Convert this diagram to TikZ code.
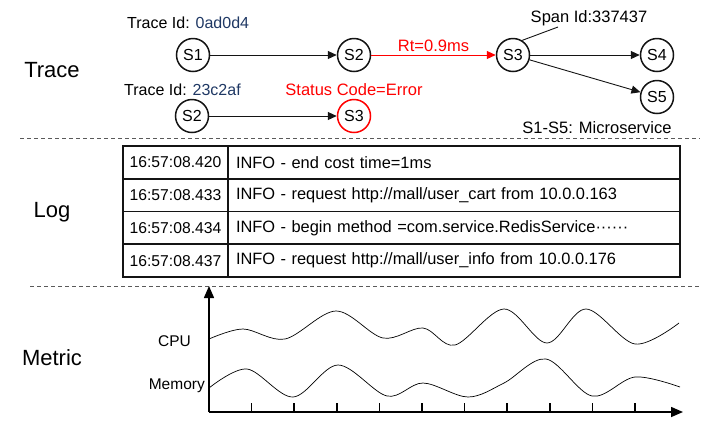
\documentclass[tikz,border=0pt]{standalone}
\usepackage{fontspec}
\setmainfont{Liberation Sans}
\usetikzlibrary{arrows.meta,positioning}
\definecolor{idblue}{RGB}{31,56,100}
\definecolor{errred}{RGB}{255,0,0}
\definecolor{ink}{RGB}{20,20,20}
\definecolor{dashgray}{RGB}{90,90,90}
\tikzset{
  >={Triangle[length=9pt,width=8pt]},
  svc/.style={circle,draw=#1,line width=1.5pt,minimum size=33pt,inner sep=0pt,
    font=\fontsize{16}{19}\selectfont},
  svc/.default=ink,
  link/.style={->,line width=0.9pt,draw=#1},
  link/.default=ink,
  sect/.style={font=\fontsize{22}{26}\selectfont},
  tag/.style={font=\fontsize{16.5}{19}\selectfont,inner sep=1pt},
  idtag/.style={font=\fontsize{16}{19}\selectfont,inner sep=1pt,anchor=west},
  axtag/.style={font=\fontsize{15.5}{18}\selectfont,inner sep=1pt,anchor=east},
  sep line/.style={dashgray,line width=0.8pt,dash pattern=on 4pt off 3pt},
  tcell/.style={draw=ink,line width=1.6pt,outer sep=0pt,minimum width=105pt,
    minimum height=32.75pt,inner sep=0pt,font=\fontsize{15.7}{18}\selectfont},
  mcell/.style={draw=ink,line width=1.6pt,outer sep=0pt,minimum width=452pt,
    minimum height=32.75pt,inner xsep=8pt,text width=436pt,align=left,
    font=\fontsize{16.4}{19}\selectfont},
  axis/.style={->,line width=1.5pt,>={Triangle[length=12pt,width=10pt]}},
  tickln/.style={line width=1.5pt},
  wave/.style={line width=0.7pt,smooth,tension=0.55},
}
\begin{document}
\begin{tikzpicture}[x=1pt,y=-1pt]
  \useasboundingbox (0,0) rectangle (706,424);
  % section names
  \node[sect] (trace) at (52,70) {Trace};
  \node[sect] (log) at (52,212) {Log};
  \node[sect] (metric) at (52,358) {Metric};
  \draw[sep line] (20,138) -- (700,138);
  \draw[sep line] (30,286) -- (700,286);

  % trace 0ad0d4
  \node[idtag] (id1) at (126,23) {Trace Id: \textcolor{idblue}{0ad0d4}};
  \node[svc] (S1) at (193,55) {S1};
  \node[svc] (S2) at (354,55) {S2};
  \node[svc] (S3) at (513,55) {S3};
  \node[svc] (S4) at (657,55) {S4};
  \node[svc] (S5) at (657,97) {S5};
  \draw[link] (S1) -- (S2);
  \draw[link=errred] (S2) -- node[tag,above=2pt,text=errred] (rt) {Rt=0.9ms} (S3);
  \draw[link] (S3) -- (S4);
  \draw[link] (S3) -- (S5);
  \node[tag] (span) at (589,18) {Span Id:337437};
  \coordinate (spanfoot) at (558,27);
  \draw[line width=0.9pt,ink] (S3.58) -- (spanfoot);

  % trace 23c2af
  \node[idtag] (id2) at (123,90) {Trace Id: \textcolor{idblue}{23c2af}};
  \node[svc] (S2b) at (192,116) {S2};
  \node[svc=errred] (S3b) at (354,116) {S3};
  \draw[link] (S2b) -- (S3b);
  \node[tag,text=errred,above=2pt of S3b] (err) {Status Code=Error};
  \node[tag] (legend) at (597,128) {S1-S5: Microservice};

  % log table
  \node[tcell] (t1) at (175.5,162.4) {16:57:08.420};
  \node[mcell,right=0pt of t1] (m1) {INFO - end cost time=1ms};
  \node[tcell,below=0pt of t1] (t2) {16:57:08.433};
  \node[mcell,right=0pt of t2] (m2) {INFO - request http://mall/user\_cart from 10.0.0.163};
  \node[tcell,below=0pt of t2] (t3) {16:57:08.434};
  \node[mcell,right=0pt of t3] (m3) {INFO - begin method =com.service.RedisService······};
  \node[tcell,below=0pt of t3] (t4) {16:57:08.437};
  \node[mcell,right=0pt of t4] (m4) {INFO - request http://mall/user\_info from 10.0.0.176};

  % metric chart
  \coordinate (o) at (209,412);
  \coordinate (ytip) at (209,286);
  \coordinate (xtip) at (683,412);
  \draw[axis] (o) -- (ytip);
  \draw[axis] (o) -- (xtip);
  \foreach \i in {1,...,10}
    \draw[tickln] (209+42.6*\i,412) -- ++(0,-9);
  \node[axtag] (cpu) at (192,341) {CPU};
  \node[axtag] (mem) at (206,386) {Memory};
  \draw[wave] plot coordinates {(209,339) (243,329) (285,339) (336,311) (383,338)
    (423,328) (455,345) (504,309) (547,343) (586,309) (635,344) (679,323)};
  \draw[wave] plot coordinates {(209,388) (247,369) (293,397) (338,365) (387,396)
    (423,383) (468,397) (504,383) (546,359) (592,396) (635,377) (680,387)};
\end{tikzpicture}
\end{document}
